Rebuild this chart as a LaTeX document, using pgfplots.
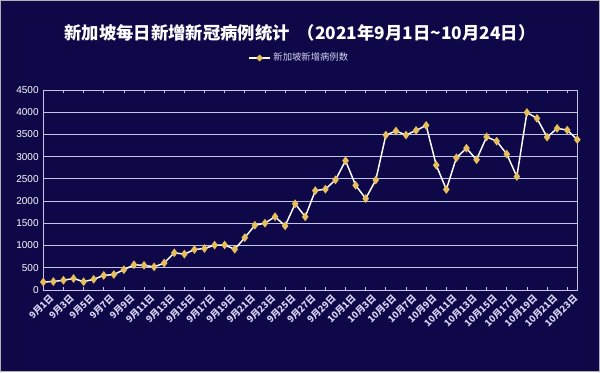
\documentclass[border=0pt]{standalone}
\usepackage{fontspec}
\setmainfont{Noto Sans CJK SC}
\newfontfamily\arial{Liberation Sans}
\usepackage{pgfplots}
\pgfplotsset{compat=1.18}
\definecolor{bg}{HTML}{0E0848}
\definecolor{gridc}{HTML}{C4C4E4}
\definecolor{markc}{HTML}{E6BE5C}
\definecolor{labc}{HTML}{D4D4F2}
\begin{document}
\begin{tikzpicture}[x=0.75pt,y=0.75pt]
\fill[bg] (0,0) rectangle (600,372);
\draw[gray!60,line width=0.75pt] (0.5,0.5) rectangle (599.5,371.5);
\begin{axis}[
  at={(43.3pt*0.75,82pt*0.75)}, anchor=origin,
  scale only axis, width=400.5pt, height=150pt,
  xmin=0, xmax=53, ymin=0, ymax=4500,
  ytick={0,500,...,4500},
  xtick={0,2,...,52},
  xticklabels={9月1日,9月3日,9月5日,9月7日,9月9日,9月11日,9月13日,9月15日,9月17日,9月19日,9月21日,9月23日,9月25日,9月27日,9月29日,10月1日,10月3日,10月5日,10月7日,10月9日,10月11日,10月13日,10月15日,10月17日,10月19日,10月21日,10月23日},
  x tick label style={rotate=45, anchor=north east, font=\fontsize{7}{7}\selectfont\bfseries, text=labc, inner sep=0.5pt, yshift=-4pt, xshift=2pt},
  y tick label style={font=\arial\fontsize{7.5}{8}\selectfont, text=white},
  /pgf/number format/assume math mode=true,
  /pgf/number format/set thousands separator={},
  ymajorgrids, major grid style={gridc, line width=0.7pt},
  axis line style={gridc, line width=0.7pt},
  tick style={gridc, line width=0.6pt},
  xtick align=inside, ytick style={draw=none},
  major tick length=2pt,
  legend style={at={(0.48,1.16)}, anchor=center, draw=none, fill=none, text=labc, font=\fontsize{7}{8}\selectfont, legend cell align=left, inner sep=1pt},
  legend image code/.code={\draw[white, line width=1.1pt] (0cm,0cm) -- (0.55cm,0cm); \fill[markc] (0.275cm,0cm) +(0,1.8pt) -- +(1.8pt,0) -- +(0,-1.8pt) -- +(-1.8pt,0) -- cycle;},
]
\addplot[white, line width=1.1pt, mark=diamond*, mark size=2.4pt, mark options={fill=markc, draw=markc}] coordinates {
(0,180)(1,191)(2,219)(3,259)(4,186)(5,241)(6,328)(7,349)(8,457)(9,568)
(10,555)(11,520)(12,607)(13,837)(14,807)(15,910)(16,935)(17,1009)(18,1012)(19,917)
(20,1178)(21,1457)(22,1504)(23,1650)(24,1443)(25,1939)(26,1647)(27,2236)(28,2268)(29,2478)
(30,2909)(31,2356)(32,2057)(33,2475)(34,3486)(35,3577)(36,3487)(37,3590)(38,3703)(39,2809)
(40,2263)(41,2976)(42,3190)(43,2932)(44,3445)(45,3348)(46,3058)(47,2553)(48,3994)(49,3862)
(50,3439)(51,3637)(52,3598)(53,3383)
};
\addlegendentry{新加坡新增病例数}
\end{axis}
\node[text=white, font=\fontsize{13}{15}\selectfont\bfseries] at (300,339) {新加坡每日新增新冠病例统计 \ （2021年9月1日\textasciitilde10月24日）};
\end{tikzpicture}
\end{document}
